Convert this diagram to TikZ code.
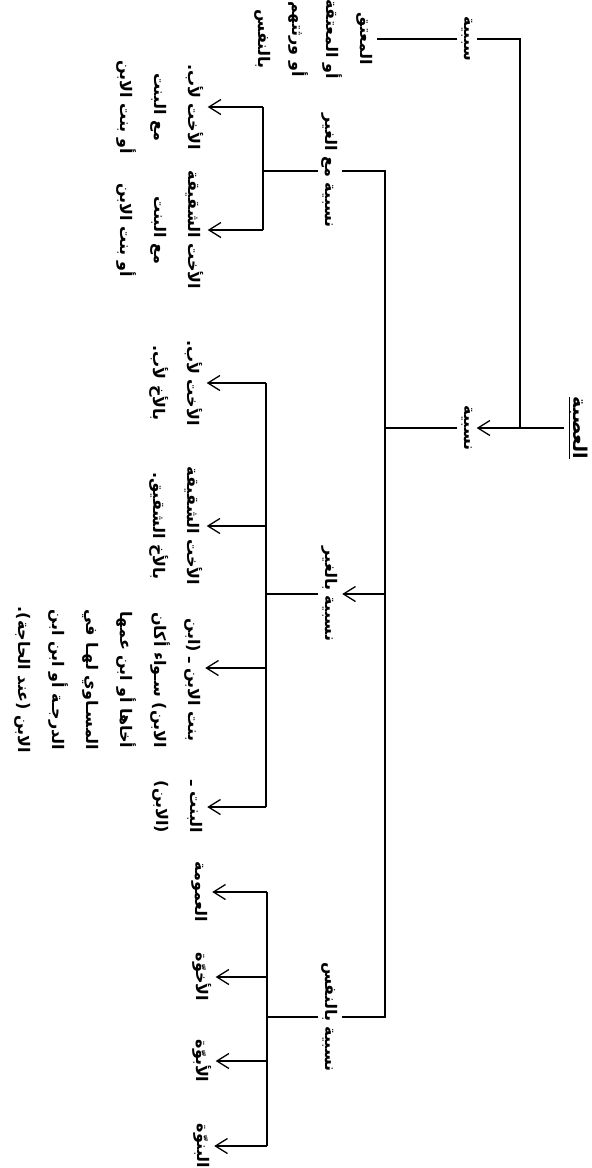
\documentclass[tikz,border=0pt]{standalone}
\usepackage{fontspec}
\newfontfamily\arabicfont[Script=Arabic]{DejaVu Sans}
\TeXXeTstate=1
\usetikzlibrary{arrows.meta}
\newcommand{\artxt}[1]{\beginR #1\endR}

\begin{document}
\begin{tikzpicture}[x=1pt, y=-1pt,
  lbl/.style={rotate=-90, font=\arabicfont\bfseries\fontsize{16}{34}\selectfont, align=center, inner sep=4pt},
  link/.style={line width=1.8pt},
  arr/.style={line width=1.8pt, -{Straight Barb[length=12pt, width=15pt, line width=1.3pt]}}]
\useasboundingbox (0,0) rectangle (592,1168);

\node[lbl, font=\arabicfont\bfseries\fontsize{19}{34}\selectfont] (root) at (578,428) {\underline{\artxt{العصبة}}};
\node[lbl] (sababi) at (467,39) {\artxt{سببية}};
\node[lbl] (nasabi) at (467,428) {\artxt{نسبية}};
\node[lbl] (sababiTxt) at (314,39) {\artxt{المعتق}\\ \artxt{أو المعتقة}\\ \artxt{أو ورثتهم}\\ \artxt{بالنفس}};
\coordinate (trunkT) at (520,39);
\coordinate (trunkB) at (520,428);

\draw[link] (root.south) -- (trunkB) -- (trunkT) -- (sababi.north);
\draw[arr] (trunkB) -- (nasabi.north);
\draw[link] (sababi.south) -- (sababiTxt.north);

\node[lbl] (maeGhayr) at (330,171) {\artxt{نسبية مع الغير}};
\node[lbl] (biGhayr) at (330,594) {\artxt{نسبية بالغير}};
\node[lbl] (biNafs) at (330,1017) {\artxt{نسبية بالنفس}};
\coordinate (busT) at (385,171);
\coordinate (busB) at (385,1017);

\draw[link] (maeGhayr.north) -- (busT) -- (busB) -- (biNafs.north);
\draw[link] (nasabi.south) -- (nasabi.south -| busT);
\draw[arr] (biGhayr.north -| busT) -- (biGhayr.north);

\node[lbl] (maeA) at (160,107) {\artxt{الأخت لأب.}\\ \artxt{مع البنت}\\ \artxt{أو بنت الابن}};
\node[lbl] (maeB) at (160,230) {\artxt{الأخت الشقيقة}\\ \artxt{مع البنت}\\ \artxt{أو بنت الابن}};
\coordinate (maeT) at (263,107);
\coordinate (maeB2) at (263,230);
\draw[link] (maeGhayr.south) -- (maeGhayr.south -| maeT);
\draw[link] (maeT) -- (maeB2);
\draw[arr] (maeT) -- (maeA.north);
\draw[arr] (maeB2) -- (maeB.north);

\node[lbl] (ghA) at (176,383) {\artxt{الأخت لأب.}\\ \artxt{بالأخ لأب.}};
\node[lbl] (ghB) at (176,526) {\artxt{الأخت الشقيقة}\\ \artxt{بالأخ الشقيق.}};
\node[lbl] (ghC) at (108,680) {\artxt{بنت الابن ـ (ابن}\\ \artxt{الابن) سـواء أكان}\\ \artxt{أخاها أو ابن عمها}\\ \artxt{المسـاوي لهـا في}\\ \artxt{الدرجـة أو ابن ابن}\\ \artxt{الابن (عند الحاجة).}};
\node[lbl] (ghD) at (178,807) {\artxt{البنت ـ}\\ \artxt{(الابن)}};
\coordinate (ghT) at (266,383);
\coordinate (ghM) at (266,668);
\coordinate (ghBt) at (266,807);
\draw[link] (biGhayr.south) -- (biGhayr.south -| ghT);
\draw[link] (ghT) -- (ghBt);
\draw[arr] (ghT) -- (ghA.north);
\draw[arr] (ghT |- ghB.north) -- (ghB.north);
\draw[arr] (ghM) -- (ghM -| ghC.north);
\draw[arr] (ghBt) -- (ghD.north);

\node[lbl] (nfA) at (200,892) {\artxt{العمومة}};
\node[lbl] (nfB) at (202,977) {\artxt{الأخوّة}};
\node[lbl] (nfC) at (202,1061) {\artxt{الأبوّة}};
\node[lbl] (nfD) at (202,1146) {\artxt{البنوّة}};
\coordinate (nfT) at (267,892);
\coordinate (nfBt) at (267,1146);
\draw[link] (biNafs.south) -- (biNafs.south -| nfT);
\draw[link] (nfT) -- (nfBt);
\draw[arr] (nfT) -- (nfA.north);
\draw[arr] (nfT |- nfB.north) -- (nfB.north);
\draw[arr] (nfT |- nfC.north) -- (nfC.north);
\draw[arr] (nfBt) -- (nfD.north);
\end{tikzpicture}
\end{document}
